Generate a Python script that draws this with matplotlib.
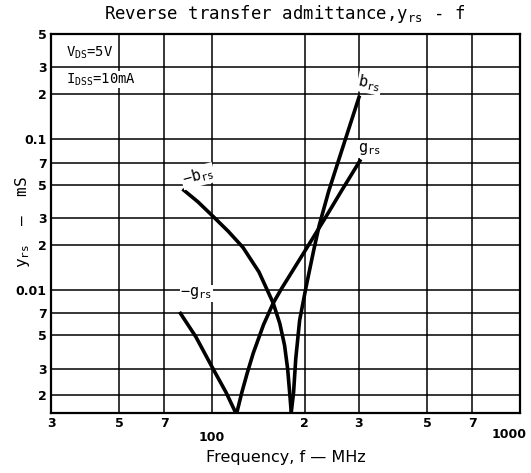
import matplotlib
matplotlib.use("Agg")
import matplotlib.pyplot as plt
from matplotlib.ticker import FixedLocator, NullLocator
from matplotlib.transforms import ScaledTranslation

plt.rcParams['mathtext.fontset'] = 'custom'
plt.rcParams['mathtext.rm'] = 'DejaVu Sans Mono'
plt.rcParams['mathtext.it'] = 'DejaVu Sans Mono'

# ---- data ----
f_neg_b = [81, 90, 101.5, 113, 126, 142, 158, 166, 172, 176, 179, 181]
y_neg_b = [0.046, 0.0385, 0.0304, 0.0245, 0.0192, 0.0132, 0.0082, 0.0060, 0.0043, 0.0030, 0.0020, 0.0015]
f_pos_b = [180.5, 184, 187, 192.5, 202, 214, 223, 239, 260, 280, 300]
y_pos_b = [0.0015, 0.0021, 0.0035, 0.0063, 0.0105, 0.0185, 0.027, 0.045, 0.077, 0.123, 0.19]
f_neg_g = [79, 88.6, 100.8, 111, 120]
y_neg_g = [0.0070, 0.0049, 0.0030, 0.0021, 0.0015]
f_pos_g = [120, 125, 130, 136, 147, 158, 168, 200, 231, 264, 302]
y_pos_g = [0.0015, 0.0021, 0.0028, 0.0038, 0.0059, 0.0082, 0.0102, 0.0181, 0.0292, 0.046, 0.072]

x_ticks = [30, 50, 70, 100, 200, 300, 500, 700, 1000]
x_labels = ["3", "5", "7", "100", "2", "3", "5", "7", "1000"]
y_ticks = [0.002, 0.003, 0.005, 0.007, 0.01, 0.02, 0.03, 0.05, 0.07, 0.1, 0.2, 0.3, 0.5]
y_labels = ["2", "3", "5", "7", "0.01", "2", "3", "5", "7", "0.1", "2", "3", "5"]

fig = plt.figure(figsize=(5.31, 4.73), dpi=100)
ax = fig.add_axes([51 / 531, 60 / 473, 469 / 531, 379 / 473])
ax.set_xscale('log')
ax.set_yscale('log')
ax.set_xlim(30, 1000)
ax.set_ylim(0.00153, 0.5)

ax.xaxis.set_major_locator(FixedLocator(x_ticks))
ax.xaxis.set_minor_locator(NullLocator())
ax.yaxis.set_major_locator(FixedLocator(y_ticks))
ax.yaxis.set_minor_locator(NullLocator())
ax.set_xticklabels(x_labels, fontsize=9, fontweight='bold', family='DejaVu Sans')
ax.set_yticklabels(y_labels, fontsize=9, fontweight='bold', family='DejaVu Sans')
ax.tick_params(length=0, pad=3)
ticks = ax.xaxis.get_major_ticks()
ticks[3].set_pad(13)
ticks[8].set_pad(11)
lbl = ticks[8].label1
lbl.set_transform(lbl.get_transform() + ScaledTranslation(-8 / 72, 0, fig.dpi_scale_trans))

ax.grid(True, color='black', linewidth=1.1)
for s in ax.spines.values():
    s.set_linewidth(1.6)

lw = 2.6
ax.plot(f_neg_b, y_neg_b, color='black', lw=lw, solid_joinstyle='round')
ax.plot(f_pos_b, y_pos_b, color='black', lw=lw, solid_joinstyle='round')
ax.plot(f_neg_g, y_neg_g, color='black', lw=lw, solid_joinstyle='round')
ax.plot(f_pos_g, y_pos_g, color='black', lw=lw, solid_joinstyle='round')

tkw = dict(fontsize=11, color='black', family='DejaVu Sans Mono',
           bbox=dict(facecolor='white', edgecolor='none', pad=0.5))
ax.text(325, 0.235, r"$\mathrm{b_{rs}}$", rotation=-12, ha='center', va='center', **tkw)
ax.text(325, 0.086, r"$\mathrm{g_{rs}}$", ha='center', va='center', **tkw)
ax.text(90, 0.057, r"$\mathrm{-b_{rs}}$", rotation=15, ha='center', va='center', **tkw)
ax.text(89, 0.0095, r"$\mathrm{-g_{rs}}$", ha='center', va='center', **tkw)

ax.text(33.5, 0.33, r"$\mathrm{V_{DS}}$=5V", fontsize=10, family='DejaVu Sans Mono',
        ha='left', va='bottom', bbox=dict(facecolor='white', edgecolor='none', pad=0.5))
ax.text(33.5, 0.22, r"$\mathrm{I_{DSS}}$=10mA", fontsize=10, family='DejaVu Sans Mono',
        ha='left', va='bottom', bbox=dict(facecolor='white', edgecolor='none', pad=0.5))

fig.text(0.535, 0.97, r"Reverse transfer admittance,$\mathrm{y_{rs}}$ - f",
         fontsize=12.5, family='DejaVu Sans Mono', ha='center', va='center')
ax.set_xlabel("Frequency, f — MHz", fontsize=11.5, family='DejaVu Sans', labelpad=4)
fig.text(0.042, 0.53, r"$\mathrm{y_{rs}}$  —  mS", fontsize=11.5, family='DejaVu Sans Mono',
         rotation=90, ha='center', va='center')

fig.savefig("out.png", dpi=100)
